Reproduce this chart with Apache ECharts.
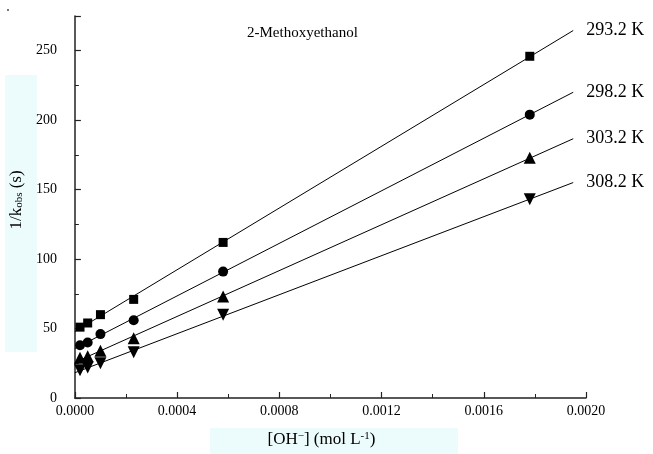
<!DOCTYPE html>
<html>
<head>
<meta charset="utf-8">
<script src="https://cdn.jsdelivr.net/npm/echarts@6/dist/echarts.min.js"></script>
<style>
html,body{margin:0;padding:0;background:#fff;}
#chart{width:653px;height:454px;}
</style>
</head>
<body>
<div id="chart"></div>
<script>
// ---- data ----
var concOH = [0.00002, 0.00005, 0.0001, 0.00023, 0.00058, 0.00178];
var seriesNames = ['293.2 K', '298.2 K', '303.2 K', '308.2 K'];
var inv293 = [51, 54, 60, 71, 112, 246];
var inv298 = [38, 40, 46, 56, 91, 204];
var inv303 = [29, 30, 34, 43, 73, 173];
var inv308 = [20, 22, 25, 33, 60, 143];
var fitRange = [0, 0.00195];
var xTicks = [0, 0.0004, 0.0008, 0.0012, 0.0016, 0.0020];
var yTicks = [0, 50, 100, 150, 200, 250];

var FONT = '"Liberation Serif", "DejaVu Serif", serif';
var allY = [inv293, inv298, inv303, inv308];
var symbols = ['rect', 'circle', 'triangle', 'triangle'];
var symSizes = [9, 10, 12, 12];
var symRot = [0, 0, 0, 180];

function fit(xs, ys) {
  var n = xs.length, mx = 0, my = 0;
  for (var i = 0; i < n; i++) { mx += xs[i]; my += ys[i]; }
  mx /= n; my /= n;
  var sxx = 0, sxy = 0;
  for (var j = 0; j < n; j++) { sxx += (xs[j]-mx)*(xs[j]-mx); sxy += (xs[j]-mx)*(ys[j]-my); }
  var b = sxy / sxx, a = my - b * mx;
  return fitRange.map(function (x) { return [x, a + b * x]; });
}

var series = [];
allY.forEach(function (ys, k) {
  series.push({
    name: seriesNames[k],
    type: 'line',
    data: fit(concOH, ys),
    showSymbol: false,
    symbol: 'none',
    lineStyle: { color: '#000', width: 1 },
    endLabel: { show: true, formatter: '{a}', distance: 13, color: '#000', fontFamily: FONT, fontSize: 18 },
    z: 2,
    silent: true
  });
  series.push({
    name: seriesNames[k] + ' pts',
    type: 'scatter',
    data: concOH.map(function (x, i) { return [x, ys[i]]; }),
    symbol: symbols[k],
    symbolSize: symSizes[k],
    symbolRotate: symRot[k],
    itemStyle: { color: '#000', opacity: 1 },
    z: 3,
    silent: true
  });
});

var chart = echarts.init(document.getElementById('chart'), null, { renderer: 'canvas' });
chart.setOption({
  animation: false,
  backgroundColor: '#fff',
  title: {
    text: '2-Methoxyethanol', left: 247, top: 26, padding: 0,
    textStyle: { fontFamily: FONT, fontSize: 15, fontWeight: 'normal', color: '#000' }
  },
  graphic: [
    { type: 'rect', left: 5, top: 75, shape: { width: 32, height: 277 }, style: { fill: '#ecfbfb' }, z: -10, silent: true },
    { type: 'rect', left: 210, top: 428, shape: { width: 248, height: 26 }, style: { fill: '#ecfbfb' }, z: -10, silent: true },
    { type: 'rect', left: 7, top: 9, shape: { width: 2, height: 2 }, style: { fill: '#777' }, z: 1, silent: true }
  ],
  grid: { left: 68, right: 67, top: 16, bottom: 56, containLabel: false },
  xAxis: {
    type: 'value',
    min: xTicks[0], max: xTicks[xTicks.length - 1], interval: xTicks[1] - xTicks[0],
    name: '[OH{s|\u2212}] (mol L{s|-1})',
    nameLocation: 'middle', nameGap: 33,
    nameTextStyle: {
      fontFamily: FONT, fontSize: 17, color: '#000', padding: [0, 18, 0, 0],
      rich: { s: { fontFamily: FONT, fontSize: 11, verticalAlign: 'top', color: '#000' } }
    },
    axisLine: { show: true, onZero: false, lineStyle: { color: '#222', width: 1.5 } },
    axisTick: { show: true, inside: true, length: 6, lineStyle: { color: '#222', width: 1.2 } },
    minorTick: { show: true, splitNumber: 2, length: 4, lineStyle: { color: '#222', width: 1 } },
    splitLine: { show: false },
    axisLabel: {
      color: '#000', fontFamily: FONT, fontSize: 14, margin: 6,
      formatter: function (v) { return v.toFixed(4); }
    }
  },
  yAxis: {
    type: 'value',
    min: 0, max: 275, interval: yTicks[1] - yTicks[0],
    name: '{a|1/k}{b|obs}{a| (s)}',
    nameLocation: 'middle', nameGap: 33, nameRotate: 90,
    nameTextStyle: {
      fontFamily: FONT, fontSize: 17, color: '#000', padding: [0, 0, 0, 14],
      rich: {
        a: { fontFamily: FONT, fontSize: 17, color: '#000' },
        b: { fontFamily: FONT, fontSize: 11, verticalAlign: 'bottom', color: '#000' }
      }
    },
    axisLine: { show: true, onZero: false, lineStyle: { color: '#222', width: 1.5 } },
    axisTick: { show: true, inside: true, length: 6, lineStyle: { color: '#222', width: 1.2 } },
    minorTick: { show: true, splitNumber: 2, length: 4, lineStyle: { color: '#222', width: 1 } },
    splitLine: { show: false },
    axisLabel: {
      color: '#000', fontFamily: FONT, fontSize: 14, margin: 18,
      formatter: function (v) { return yTicks.indexOf(v) >= 0 ? String(v) : ''; }
    }
  },
  series: series
});
</script>
</body>
</html>
